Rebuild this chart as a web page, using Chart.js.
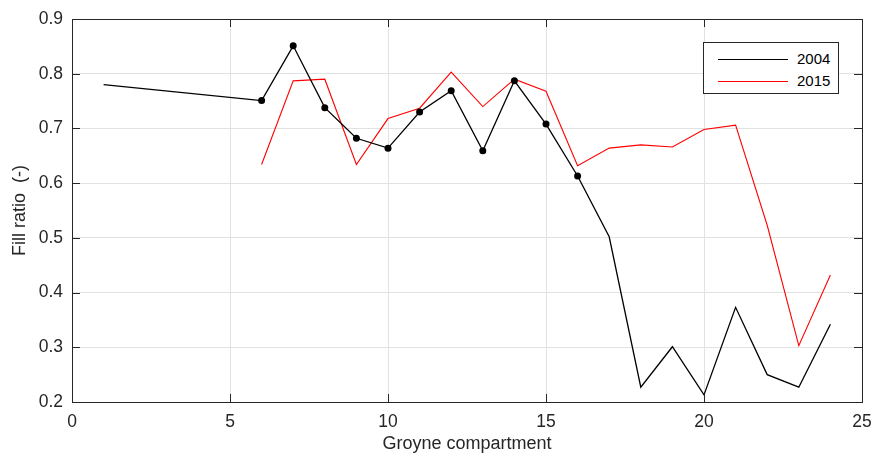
<!DOCTYPE html>
<html>
<head>
<meta charset="utf-8">
<script src="https://cdn.jsdelivr.net/npm/chart.js@4.4.1/dist/chart.umd.min.js"></script>
<style>
  html, body { margin: 0; padding: 0; background: #fff; }
  #wrap { position: relative; width: 875px; height: 453px; }
  #legend {
    position: absolute; left: 703px; top: 42px; width: 136px; height: 52px;
    background: #fff; border: 1px solid #262626; box-sizing: border-box;
    font: 15px "Liberation Sans", Arial, sans-serif; color: #000;
  }
  #legend .row { position: absolute; left: 0; height: 16px; line-height: 16px; }
  #legend .swatch { position: absolute; left: 14px; top: 8px; width: 70px; height: 0; border-top: 1px solid; }
  #legend .lbl { position: absolute; left: 93px; top: 0; }
</style>
</head>
<body>
<div id="wrap">
  <canvas id="c" width="875" height="453"></canvas>
  <div id="legend"></div>
</div>
<script>
// Groyne compartment numbers
const x2004 = [1, 6, 7, 8, 9, 10, 11, 12, 13, 14, 15, 16, 17, 18, 19, 20, 21, 22, 23, 24];
const fill2004 = [0.780, 0.751, 0.851, 0.738, 0.682, 0.664, 0.730, 0.769, 0.659, 0.787, 0.708, 0.613, 0.502, 0.227, 0.301, 0.213, 0.373, 0.250, 0.227, 0.342];
// compartments that carry a marker in 2004
const marked2004 = [6, 7, 8, 9, 10, 11, 12, 13, 14, 15, 16];

const x2015 = [6, 7, 8, 9, 10, 11, 12, 13, 14, 15, 16, 17, 18, 19, 20, 21, 22, 23, 24];
const fill2015 = [0.634, 0.787, 0.790, 0.634, 0.718, 0.737, 0.803, 0.740, 0.790, 0.768, 0.632, 0.664, 0.670, 0.666, 0.698, 0.706, 0.523, 0.303, 0.432];

const xTicks = [0, 5, 10, 15, 20, 25];
const yTicks = [0.2, 0.3, 0.4, 0.5, 0.6, 0.7, 0.8, 0.9];
const seriesNames = ["2004", "2015"];
const seriesColors = ["#000000", "#ff0000"];

const axisColor = "#262626";
const family = "'Liberation Sans', Arial, sans-serif";
const tickFont = { family, size: 17.5 };
const titleFont = { family, size: 18 };

// legend overlay
document.getElementById("legend").innerHTML = seriesNames
  .map((n, i) => `<div class="row" style="top:${8 + i * 22}px"><span class="swatch" style="border-color:${seriesColors[i]}"></span><span class="lbl">${n}</span></div>`)
  .join("");

// box + inward ticks on all four sides
const boxPlugin = {
  id: "box",
  afterDraw(chart) {
    const { ctx, chartArea: a, scales } = chart;
    const len = 8;
    ctx.save();
    ctx.strokeStyle = axisColor;
    ctx.lineWidth = 1;
    ctx.beginPath();
    xTicks.forEach((t) => {
      const px = Math.round(scales.x.getPixelForValue(t)) + 0.5;
      ctx.moveTo(px, a.bottom); ctx.lineTo(px, a.bottom - len);
      ctx.moveTo(px, a.top); ctx.lineTo(px, a.top + len);
    });
    yTicks.forEach((t) => {
      const py = Math.round(scales.y.getPixelForValue(t)) + 0.5;
      ctx.moveTo(a.left, py); ctx.lineTo(a.left + len, py);
      ctx.moveTo(a.right, py); ctx.lineTo(a.right - len, py);
    });
    ctx.stroke();
    ctx.strokeRect(Math.round(a.left) + 0.5, Math.round(a.top) + 0.5, Math.round(a.right - a.left), Math.round(a.bottom - a.top));
    ctx.restore();
  },
};

new Chart(document.getElementById("c"), {
  type: "line",
  data: {
    datasets: [
      {
        label: seriesNames[0],
        data: x2004.map((x, i) => ({ x, y: fill2004[i] })),
        borderColor: seriesColors[0],
        backgroundColor: seriesColors[0],
        borderWidth: 1.3,
        tension: 0,
        pointRadius: (c) => (marked2004.includes(c.raw.x) ? 3.5 : 0),
        pointBorderWidth: 0,
      },
      {
        label: seriesNames[1],
        data: x2015.map((x, i) => ({ x, y: fill2015[i] })),
        borderColor: seriesColors[1],
        backgroundColor: seriesColors[1],
        borderWidth: 1.1,
        tension: 0,
        pointRadius: 0,
      },
    ],
  },
  options: {
    responsive: false,
    animation: false,
    layout: { padding: { left: 0, top: 19, right: 13, bottom: 0 } },
    plugins: { legend: { display: false }, tooltip: { enabled: false } },
    scales: {
      x: {
        type: "linear",
        min: 0,
        max: 25,
        afterBuildTicks: (s) => { s.ticks = xTicks.map((v) => ({ value: v })); },
        afterFit: (s) => { s.height = 51; s.paddingLeft = 0; s.paddingRight = 0; },
        grid: { color: "#e2e2e2", drawTicks: false },
        border: { display: false },
        ticks: { color: axisColor, font: tickFont, padding: 10, maxRotation: 0 },
        title: { display: true, text: "Groyne compartment", color: axisColor, font: titleFont, padding: { top: 0, bottom: -2 } },
      },
      y: {
        min: 0.2,
        max: 0.9,
        afterBuildTicks: (s) => { s.ticks = yTicks.map((v) => ({ value: v })); },
        afterFit: (s) => { s.width = 72; s.paddingTop = 0; s.paddingBottom = 0; },
        grid: { color: "#e2e2e2", drawTicks: false },
        border: { display: false },
        ticks: { color: axisColor, font: tickFont, padding: 9, callback: (v) => Number(v).toFixed(1) },
        title: { display: true, text: "Fill ratio  (-)", color: axisColor, font: titleFont, padding: { top: 9, bottom: 0 } },
      },
    },
  },
  plugins: [boxPlugin],
});
</script>
</body>
</html>
